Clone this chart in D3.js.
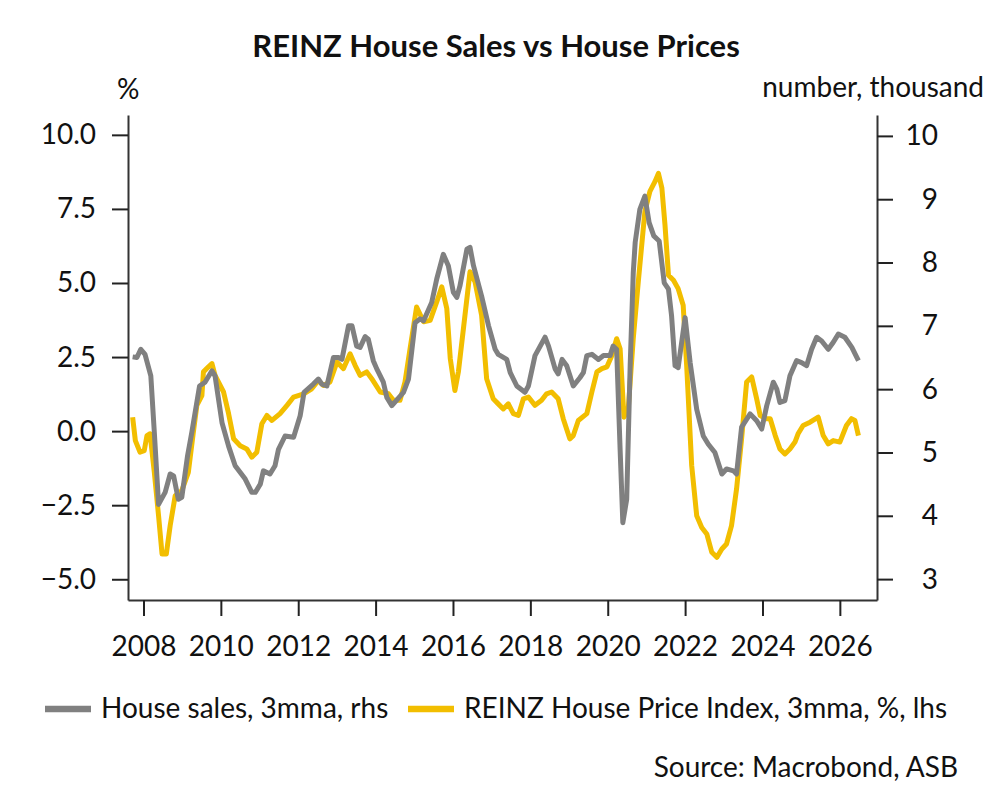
<!DOCTYPE html>
<html>
<head>
<meta charset="utf-8">
<script src="https://cdn.jsdelivr.net/npm/d3@7"></script>
<style>
  body { margin: 0; background: #fff; }
  text { font-family: Lato, "Open Sans", sans-serif; fill: #111; }
</style>
</head>
<body>
<script>
// House sales (3mma, thousands, right axis) - decimal year and value
const salesYears = [2007.72, 2007.83, 2007.93, 2008.04, 2008.19, 2008.28, 2008.39, 2008.56, 2008.69, 2008.78,
  2008.90, 2008.99, 2009.14, 2009.25, 2009.45, 2009.59, 2009.77, 2009.85, 2010.03, 2010.20,
  2010.37, 2010.63, 2010.80, 2010.89, 2011.02, 2011.10, 2011.27, 2011.40, 2011.49, 2011.66,
  2011.88, 2012.05, 2012.15, 2012.39, 2012.52, 2012.61, 2012.74, 2012.91, 2013.04, 2013.13,
  2013.30, 2013.39, 2013.51, 2013.60, 2013.73, 2013.81, 2013.94, 2014.03, 2014.20, 2014.29,
  2014.42, 2014.72, 2014.85, 2015.02, 2015.15, 2015.24, 2015.45, 2015.58, 2015.75, 2015.88,
  2016.01, 2016.10, 2016.18, 2016.36, 2016.44, 2016.53, 2016.74, 2016.92, 2017.09, 2017.17,
  2017.39, 2017.48, 2017.65, 2017.86, 2017.95, 2018.12, 2018.38, 2018.47, 2018.64, 2018.72,
  2018.82, 2018.94, 2019.11, 2019.28, 2019.37, 2019.46, 2019.59, 2019.76, 2019.89, 2020.06,
  2020.14, 2020.23, 2020.32, 2020.39, 2020.49, 2020.58, 2020.66, 2020.71, 2020.83, 2020.96,
  2021.07, 2021.19, 2021.33, 2021.46, 2021.57, 2021.65, 2021.74, 2021.82, 2022.00, 2022.13,
  2022.30, 2022.47, 2022.60, 2022.77, 2022.95, 2023.07, 2023.25, 2023.33, 2023.46, 2023.68,
  2023.85, 2023.98, 2024.11, 2024.28, 2024.37, 2024.45, 2024.58, 2024.71, 2024.88, 2025.01,
  2025.14, 2025.27, 2025.40, 2025.53, 2025.70, 2025.83, 2025.96, 2026.13, 2026.31, 2026.48];
const salesValues = [6.51, 6.50, 6.63, 6.55, 6.21, 5.32, 4.18, 4.37, 4.66, 4.63,
  4.26, 4.29, 4.95, 5.32, 6.05, 6.11, 6.29, 6.21, 5.47, 5.10,
  4.79, 4.58, 4.37, 4.37, 4.50, 4.71, 4.66, 4.79, 5.05, 5.26,
  5.24, 5.58, 5.95, 6.08, 6.16, 6.08, 6.05, 6.50, 6.50, 6.47,
  7.00, 7.00, 6.68, 6.66, 6.83, 6.79, 6.45, 6.32, 6.11, 5.87,
  5.74, 5.95, 6.16, 7.05, 7.11, 7.08, 7.37, 7.74, 8.13, 7.95,
  7.53, 7.45, 7.63, 8.21, 8.24, 7.95, 7.47, 7.00, 6.63, 6.55,
  6.47, 6.26, 6.05, 5.95, 6.05, 6.53, 6.82, 6.68, 6.32, 6.24,
  6.47, 6.37, 6.05, 6.18, 6.26, 6.53, 6.55, 6.47, 6.53, 6.53,
  6.68, 6.63, 5.05, 3.89, 4.26, 6.37, 7.84, 8.32, 8.84, 9.05,
  8.63, 8.42, 8.34, 7.68, 7.58, 7.16, 6.37, 6.34, 7.13, 6.42,
  5.68, 5.26, 5.13, 5.00, 4.66, 4.74, 4.71, 4.66, 5.40, 5.61,
  5.50, 5.37, 5.74, 6.11, 6.00, 5.79, 5.82, 6.21, 6.45, 6.42,
  6.37, 6.63, 6.82, 6.76, 6.63, 6.74, 6.87, 6.82, 6.66, 6.45];

// REINZ House Price Index (3mma, %, left axis)
const hpiYears = [2007.72, 2007.79, 2007.91, 2008.02, 2008.09, 2008.17, 2008.28, 2008.39, 2008.48, 2008.59,
  2008.69, 2008.82, 2008.99, 2009.16, 2009.29, 2009.38, 2009.51, 2009.55, 2009.68, 2009.77,
  2009.85, 2010.07, 2010.20, 2010.33, 2010.50, 2010.67, 2010.80, 2010.93, 2011.06, 2011.19,
  2011.32, 2011.53, 2011.71, 2011.88, 2012.14, 2012.35, 2012.52, 2012.65, 2012.82, 2013.00,
  2013.17, 2013.34, 2013.47, 2013.60, 2013.77, 2013.90, 2014.12, 2014.33, 2014.46, 2014.63,
  2014.76, 2014.89, 2015.06, 2015.24, 2015.41, 2015.58, 2015.71, 2015.84, 2015.93, 2016.05,
  2016.14, 2016.27, 2016.44, 2016.57, 2016.74, 2016.87, 2017.04, 2017.17, 2017.30, 2017.43,
  2017.56, 2017.69, 2017.82, 2017.95, 2018.12, 2018.29, 2018.42, 2018.55, 2018.72, 2018.85,
  2019.02, 2019.11, 2019.24, 2019.46, 2019.59, 2019.72, 2019.85, 2019.98, 2020.11, 2020.23,
  2020.32, 2020.42, 2020.53, 2020.66, 2020.79, 2020.96, 2021.09, 2021.22, 2021.31, 2021.40,
  2021.48, 2021.57, 2021.70, 2021.82, 2021.95, 2022.04, 2022.17, 2022.30, 2022.43, 2022.56,
  2022.69, 2022.82, 2022.95, 2023.07, 2023.20, 2023.33, 2023.46, 2023.59, 2023.72, 2023.85,
  2023.94, 2024.07, 2024.20, 2024.33, 2024.45, 2024.58, 2024.71, 2024.84, 2024.92, 2025.05,
  2025.23, 2025.44, 2025.57, 2025.70, 2025.83, 2026.00, 2026.17, 2026.30, 2026.39, 2026.48];
const hpiValues = [0.47, -0.32, -0.71, -0.66, -0.15, -0.09, -1.39, -2.86, -4.15, -4.15,
  -3.19, -2.18, -2.01, -1.39, -0.03, 0.87, 1.20, 2.00, 2.17, 2.28,
  1.88, 1.32, 0.59, -0.26, -0.49, -0.60, -0.88, -0.71, 0.25, 0.53,
  0.36, 0.59, 0.87, 1.15, 1.26, 1.43, 1.71, 1.54, 1.66, 2.33,
  2.11, 2.61, 2.22, 1.88, 2.00, 1.77, 1.32, 1.26, 1.04, 1.04,
  1.66, 2.78, 4.19, 3.69, 3.74, 4.36, 4.87, 4.14, 2.45, 1.37,
  2.00, 3.46, 5.38, 5.04, 3.91, 1.77, 1.09, 0.92, 0.75, 0.92,
  0.59, 0.53, 1.09, 1.15, 0.87, 1.04, 1.26, 1.32, 1.09, 0.42,
  -0.26, -0.15, 0.36, 0.59, 1.32, 2.00, 2.11, 2.17, 2.56, 3.12,
  2.78, 0.47, 0.75, 3.12, 5.04, 7.41, 8.09, 8.42, 8.70, 8.20,
  6.96, 5.26, 5.09, 4.81, 4.25, 2.22, -1.16, -2.86, -3.25, -3.47,
  -4.09, -4.26, -3.98, -3.81, -3.19, -1.95, -0.26, 1.66, 1.83, 1.09,
  0.53, 0.42, 0.42, -0.15, -0.60, -0.77, -0.60, -0.37, -0.09, 0.19,
  0.30, 0.47, -0.15, -0.43, -0.32, -0.37, 0.19, 0.42, 0.36, -0.15];

// Tick values
const yearTicks = [2008, 2010, 2012, 2014, 2016, 2018, 2020, 2022, 2024, 2026];
const leftTicks = [-5, -2.5, 0, 2.5, 5, 7.5, 10];
const rightTicks = [3, 4, 5, 6, 7, 8, 9, 10];

const salesColor = "#808080";
const hpiColor = "#F2BE00";
const fontSize = "28px";

// Canvas and plot area
const W = 993, H = 795;
const margin = {top: 115, right: 116, bottom: 195, left: 128};
const width = W - margin.left - margin.right;
const height = H - margin.top - margin.bottom;

const xScale = d3.scaleLinear().domain([2007.6, 2026.96]).range([0, width]);
const yLeft = d3.scaleLinear().domain([-5.7, 10.67]).range([height, 0]);
const yRight = d3.scaleLinear().domain([2.67, 10.33]).range([height, 0]);

const svg = d3.select("body").append("svg")
  .attr("width", W)
  .attr("height", H);

const g = svg.append("g")
  .attr("transform", "translate(" + margin.left + "," + margin.top + ")");

// Axes (tickSizeInner only, so no outer end ticks)
const xAxis = g.append("g")
  .attr("transform", "translate(0," + height + ")")
  .call(d3.axisBottom(xScale).tickValues(yearTicks).tickFormat(d3.format("d"))
    .tickSizeInner(16).tickSizeOuter(0).tickPadding(20));

const leftAxis = g.append("g")
  .call(d3.axisLeft(yLeft).tickValues(leftTicks).tickFormat(d3.format(".1f"))
    .tickSizeInner(16).tickSizeOuter(0).tickPadding(16));

const rightAxis = g.append("g")
  .attr("transform", "translate(" + width + ",0)")
  .call(d3.axisRight(yRight).tickValues(rightTicks).tickFormat(d3.format("d"))
    .tickSizeInner(16).tickSizeOuter(0).tickPadding(45));

[xAxis, leftAxis, rightAxis].forEach(function(a) {
  a.select(".domain").attr("stroke", "#333").attr("stroke-width", 2);
  a.selectAll(".tick line").attr("stroke", "#222").attr("stroke-width", 2);
  a.selectAll(".tick text").style("font-size", fontSize).attr("fill", "#111");
});
rightAxis.selectAll(".tick text").attr("text-anchor", "end");

// Lines
const hpiLine = d3.line()
  .x(function(d, i) { return xScale(hpiYears[i]); })
  .y(function(d) { return yLeft(d); });

const salesLine = d3.line()
  .x(function(d, i) { return xScale(salesYears[i]); })
  .y(function(d) { return yRight(d); });

g.append("path")
  .datum(hpiValues)
  .attr("fill", "none")
  .attr("stroke", hpiColor)
  .attr("stroke-width", 5)
  .attr("stroke-linejoin", "round")
  .attr("d", hpiLine);

g.append("path")
  .datum(salesValues)
  .attr("fill", "none")
  .attr("stroke", salesColor)
  .attr("stroke-width", 5)
  .attr("stroke-linejoin", "round")
  .attr("d", salesLine);

// Title and axis units
svg.append("text")
  .attr("x", 496)
  .attr("y", 57)
  .attr("text-anchor", "middle")
  .style("font-size", "31px")
  .style("font-weight", "bold")
  .text("REINZ House Sales vs House Prices");

svg.append("text")
  .attr("x", 117)
  .attr("y", 99)
  .style("font-size", fontSize)
  .text("%");

svg.append("text")
  .attr("x", 984)
  .attr("y", 97)
  .attr("text-anchor", "end")
  .style("font-size", fontSize)
  .text("number, thousand");

// Legend
const legend = [
  {label: "House sales, 3mma, rhs", color: salesColor, x: 45},
  {label: "REINZ House Price Index, 3mma, %, lhs", color: hpiColor, x: 408}
];
legend.forEach(function(d) {
  svg.append("line")
    .attr("x1", d.x).attr("x2", d.x + 46)
    .attr("y1", 709).attr("y2", 709)
    .attr("stroke", d.color)
    .attr("stroke-width", 6.5);
  svg.append("text")
    .attr("x", d.x + 56)
    .attr("y", 718)
    .style("font-size", fontSize)
    .text(d.label);
});

svg.append("text")
  .attr("x", 958)
  .attr("y", 777)
  .attr("text-anchor", "end")
  .style("font-size", fontSize)
  .text("Source: Macrobond, ASB");
</script>
</body>
</html>
